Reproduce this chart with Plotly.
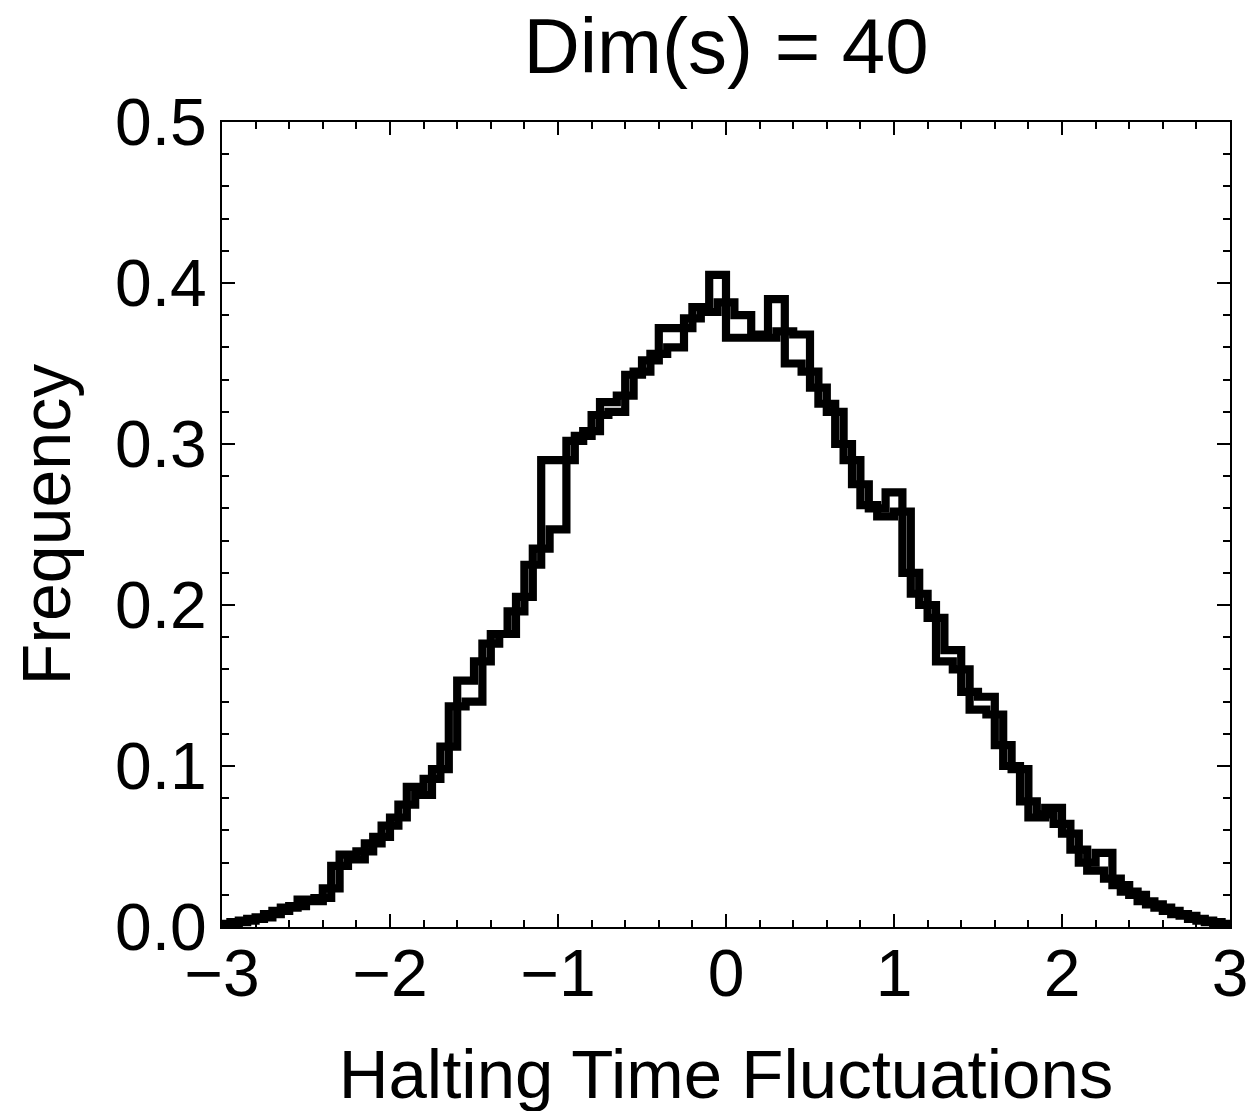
import plotly.graph_objects as go

# Series A: bins of width 0.1 starting at -3.0
a_edge_start = -3.0
bin_width = 0.1
a_values = [0.002, 0.004, 0.006, 0.010, 0.013, 0.016, 0.024, 0.045, 0.047, 0.056,
            0.068, 0.087, 0.092, 0.112, 0.153, 0.165, 0.182, 0.196, 0.225, 0.290,
            0.290, 0.305, 0.318, 0.320, 0.343, 0.352, 0.372, 0.372, 0.385, 0.405,
            0.366, 0.366, 0.366, 0.370, 0.368, 0.335, 0.320, 0.290, 0.262, 0.255,
            0.258, 0.207, 0.192, 0.172, 0.146, 0.143, 0.113, 0.098, 0.068, 0.074,
            0.058, 0.040, 0.046, 0.026, 0.020, 0.014, 0.010, 0.007, 0.004, 0.002]

# Series B: bins of width 0.1 starting at -3.05
b_edge_start = -3.05
b_values = [0.001, 0.003, 0.005, 0.008, 0.012, 0.017, 0.018, 0.038, 0.042, 0.052,
            0.063, 0.076, 0.082, 0.098, 0.137, 0.140, 0.176, 0.182, 0.205, 0.235,
            0.247, 0.302, 0.308, 0.326, 0.330, 0.345, 0.356, 0.360, 0.378, 0.382,
            0.388, 0.380, 0.368, 0.390, 0.350, 0.345, 0.325, 0.300, 0.275, 0.260,
            0.270, 0.220, 0.200, 0.165, 0.160, 0.135, 0.132, 0.100, 0.078, 0.070,
            0.064, 0.048, 0.035, 0.030, 0.022, 0.016, 0.012, 0.008, 0.005, 0.003,
            0.001]

x_tick_vals = [-3, -2, -1, 0, 1, 2, 3]
y_tick_vals = [0.0, 0.1, 0.2, 0.3, 0.4, 0.5]


def outline(start, width, vals):
    edges = [start + i * width for i in range(len(vals) + 1)]
    xs = [edges[0]]
    ys = [0.0]
    for i, v in enumerate(vals):
        xs += [edges[i], edges[i + 1]]
        ys += [v, v]
    xs.append(edges[-1])
    ys.append(0.0)
    return xs, ys


fig = go.Figure()
for start, vals in [(a_edge_start, a_values), (b_edge_start, b_values)]:
    xs, ys = outline(start, bin_width, vals)
    fig.add_trace(go.Scatter(x=xs, y=ys, mode="lines",
                             line=dict(color="black", width=8.2),
                             showlegend=False, hoverinfo="skip"))

font_family = "Liberation Sans, Arial, sans-serif"

fig.update_layout(
    width=1254, height=1111,
    paper_bgcolor="white", plot_bgcolor="white",
    margin=dict(l=214, r=32, t=114, b=192, autoexpand=False),
    font=dict(family=font_family, color="black", size=66),
    title=dict(text="Dim(s) = 40", x=0.5, xanchor="center", xref="paper",
               y=1 - 38 / 1111, yanchor="middle", yref="container",
               font=dict(size=78, family=font_family, color="black")),
)

axis_common = dict(
    showline=True, linecolor="black", linewidth=2, mirror="ticks",
    showgrid=False, zeroline=False, automargin=False,
    ticks="inside", ticklen=13, tickwidth=2, tickcolor="black",
    tickfont=dict(size=66, family=font_family, color="black"),
)

fig.update_xaxes(
    range=[-3, 3], tickvals=x_tick_vals, **axis_common,
    ticklabelstandoff=-12,
    minor=dict(dtick=0.2, ticks="inside", ticklen=7, tickwidth=2, tickcolor="black"),
    title=dict(text="Halting Time Fluctuations", standoff=40,
               font=dict(size=69, family=font_family, color="black")),
)
fig.update_yaxes(
    range=[0, 0.5], tickvals=y_tick_vals, tickformat=".1f", **axis_common,
    minor=dict(dtick=0.02, ticks="inside", ticklen=7, tickwidth=2, tickcolor="black"),
    title=dict(text="Frequency", standoff=22,
               font=dict(size=68, family=font_family, color="black")),
)

fig.write_html("out.html")
